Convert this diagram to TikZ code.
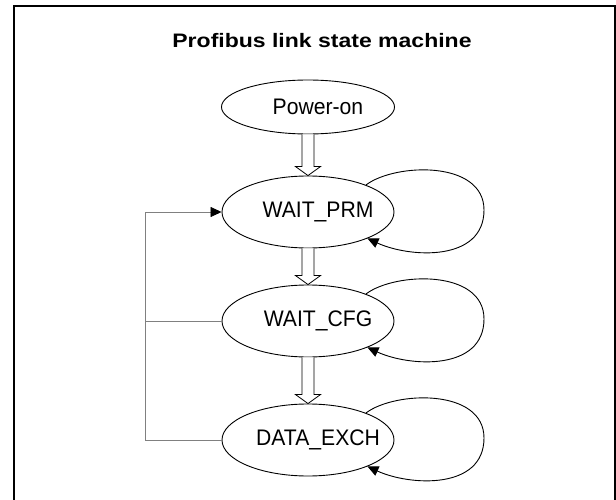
\documentclass[tikz,border=0pt]{standalone}
\usepackage{fontspec}
\setmainfont{Liberation Sans}
\newfontfamily\titlefont{Liberation Sans}[FakeStretch=1.18]
\newfontfamily\statefont{Liberation Sans}[FakeStretch=0.94]
\usetikzlibrary{shapes.geometric,arrows.meta,calc}

\newcommand\bigdown[2]{%
  \draw[fill=white,line width=0.8pt] let \p1=(#1.south), \p2=(#2.north) in
    (\x1-6pt,\y1) -- (\x1-6pt,\y2+9pt) -- (\x1-12.5pt,\y2+9pt) -- (\x2,\y2)
    -- (\x1+12.5pt,\y2+9pt) -- (\x1+6pt,\y2+9pt) -- (\x1+6pt,\y1);}
\newcommand\selfloop[1]{%
  \draw[loopline] (#1.25) .. controls ([shift={(87,-49)}]#1.center) and ([shift={(176,-52)}]#1.center)
    .. ([shift={(176,-2)}]#1.center) .. controls ([shift={(176,50)}]#1.center) and ([shift={(102,46)}]#1.center)
    .. (#1.-24);}

\begin{document}
\begin{tikzpicture}[x=1pt,y=-1pt,
  state/.style={draw,ellipse,line width=0.9pt,inner sep=0pt,minimum width=172pt,minimum height=72pt,
    label={[font=\statefont\fontsize{22.5}{26}\selectfont,xshift=10pt]center:#1}},
  loopline/.style={line width=0.9pt,-{Triangle[length=11pt,width=10pt]}},
  fbline/.style={gray,line width=0.7pt}]
  \useasboundingbox (0,0) rectangle (616,500);
  \draw[line width=2pt] (14,501) -- (14,6) -- (614.5,6) -- (614.5,501);
  \node[font=\titlefont\bfseries\fontsize{19.5}{22}\selectfont,anchor=base] (title) at (322,48)
    {Profibus link state machine};
  \node[state=Power-on,minimum height=54pt,minimum width=173pt] (pwr) at (308,107) {};
  \node[state=WAIT\_PRM] (prm) at (308,212) {};
  \node[state=WAIT\_CFG] (cfg) at (308,321) {};
  \node[state=DATA\_EXCH] (xch) at (308,440) {};
  % state changes
  \bigdown{pwr}{prm}
  \bigdown{prm}{cfg}
  \bigdown{cfg}{xch}
  \selfloop{prm}
  \selfloop{cfg}
  \selfloop{xch}
  % back to WAIT_PRM
  \coordinate (back) at (145,440);
  \draw[fbline,-{Triangle[length=11pt,width=10pt,color=black]}]
    (xch.west) -- (xch.west -| back) -- (prm.west -| back) -- (prm.west);
  \draw[fbline] (cfg.west) -- (cfg.west -| back);
\end{tikzpicture}
\end{document}
